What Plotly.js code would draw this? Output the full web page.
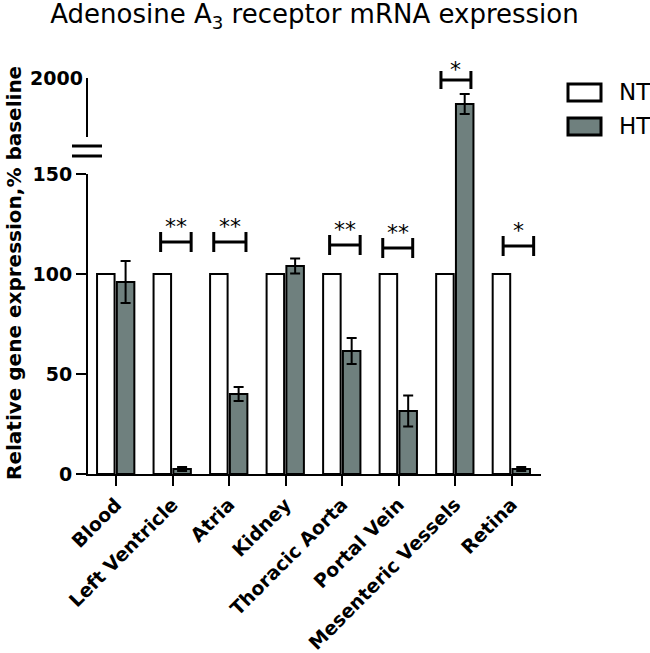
<!DOCTYPE html>
<html>
<head>
<meta charset="utf-8">
<script src="https://cdn.plot.ly/plotly-3.0.1.min.js"></script>
<style>html,body{margin:0;padding:0;background:#fff;}#chart{width:650px;height:653px;}</style>
</head>
<body>
<div id="chart"></div>
<script>
// ---- data ----
var categories = ['Blood','Left Ventricle','Atria','Kidney','Thoracic Aorta','Portal Vein','Mesenteric Vessels','Retina'];
var NT = [100,100,100,100,100,100,100,100];
var HT = [96, 2.5, 40, 104, 61.5, 31.5, 1870, 2.5];
var HT_err = [10.5, 1, 3.5, 3.7, 6.5, 7.7, 50, 1];
var sigMarks = ['', '**', '**', '', '**', '**', '*', '*'];
var seriesNames = ['NT', 'HT'];
var yTicks = [0, 50, 100, 150];
var yTicksUpper = [2000];

// ---- styling ----
var FONT = 'DejaVu Sans, Arial, sans-serif';
var GRAY = '#6f807e';
var L = 88, R = 541, T = 50, B = 474, W = 650, H = 653;
var pw = R - L, ph = B - T;
function px2x(p){ return (p - L) / pw; }
function px2y(p){ return (B - p) / ph; }
var splitFrac = px2y(174);

var barLine = {color:'#000', width:2};
var errStyle = {type:'data', visible:true, color:'#000', thickness:2, width:5};

var upperIdx = HT.map(function(v,i){return v > 150 ? i : -1;}).filter(function(i){return i >= 0;});

var traces = [
  {type:'bar', name:seriesNames[0], x:categories, y:NT, xaxis:'x', yaxis:'y',
   width:0.31, offset:-0.335, marker:{color:'#fff', line:barLine}, showlegend:false},
  {type:'bar', name:seriesNames[1], x:categories, y:HT, xaxis:'x', yaxis:'y',
   width:0.31, offset:0.015, marker:{color:GRAY, line:barLine},
   error_y:Object.assign({array:HT_err}, errStyle), showlegend:false},
  // upper segment of the broken axis: same HT series, where it exceeds the lower range
  {type:'bar', name:seriesNames[1], x:upperIdx.map(function(i){return categories[i];}),
   y:upperIdx.map(function(i){return HT[i];}), xaxis:'x', yaxis:'y2',
   width:0.31, offset:0.015, marker:{color:GRAY, line:barLine},
   error_y:Object.assign({array:upperIdx.map(function(i){return HT_err[i];})}, errStyle),
   showlegend:false}
];

// significance brackets: [left offset, right offset, y]
var brk = [ null, [-0.21,0.33,116], [-0.27,0.3,116], null, [-0.22,0.32,114.5], [-0.28,0.25,113], [-0.25,0.28,1990], [-0.15,0.39,114] ];
var shapes = [];
var annotations = [];
for (var i = 0; i < categories.length; i++) {
  var b = brk[i];
  if (!b || !sigMarks[i]) continue;
  var yr = (HT[i] > 150) ? 'y2' : 'y';
  var cap = (yr === 'y2') ? 45 : 5;
  var x0 = i + b[0], x1 = i + b[1], yy = b[2];
  var ln = {color:'#000', width:3};
  shapes.push({type:'line', xref:'x', yref:yr, x0:x0, x1:x1, y0:yy, y1:yy, line:ln});
  shapes.push({type:'line', xref:'x', yref:yr, x0:x0, x1:x0, y0:yy-cap, y1:yy+cap, line:ln});
  shapes.push({type:'line', xref:'x', yref:yr, x0:x1, x1:x1, y0:yy-cap, y1:yy+cap, line:ln});
  annotations.push({xref:'x', yref:yr, x:(x0+x1)/2, y:yy + (yr==='y2' ? -20 : 0.5), text:sigMarks[i],
    showarrow:false, yanchor:'bottom', font:{family:FONT, size:22, color:'#000'}});
}

// broken axis decorations
shapes.push({type:'line', xref:'paper', yref:'paper', x0:px2x(87), x1:px2x(87), y0:px2y(78), y1:px2y(137), line:{color:'#000', width:2}});
shapes.push({type:'line', xref:'paper', yref:'paper', x0:px2x(72), x1:px2x(102), y0:px2y(146), y1:px2y(146), line:{color:'#000', width:3}});
shapes.push({type:'line', xref:'paper', yref:'paper', x0:px2x(72), x1:px2x(102), y0:px2y(156), y1:px2y(156), line:{color:'#000', width:3}});

// legend
shapes.push({type:'rect', xref:'paper', yref:'paper', x0:px2x(568), x1:px2x(601), y0:px2y(101), y1:px2y(84), fillcolor:'#fff', line:{color:'#000', width:3}});
shapes.push({type:'rect', xref:'paper', yref:'paper', x0:px2x(568), x1:px2x(601), y0:px2y(135), y1:px2y(118), fillcolor:GRAY, line:{color:'#000', width:3}});
annotations.push({xref:'paper', yref:'paper', x:px2x(617), y:px2y(92), xanchor:'left', yanchor:'middle', text:seriesNames[0], showarrow:false, font:{family:FONT, size:23, color:'#000'}});
annotations.push({xref:'paper', yref:'paper', x:px2x(617), y:px2y(126), xanchor:'left', yanchor:'middle', text:seriesNames[1], showarrow:false, font:{family:FONT, size:23, color:'#000'}});

// y axis title
annotations.push({xref:'paper', yref:'paper', x:px2x(14), y:px2y(273), xanchor:'center', yanchor:'middle', textangle:-90,
  text:'<b>Relative gene expression,% baseline</b>', showarrow:false, font:{family:FONT, size:20, color:'#000'}});

var layout = {
  width:W, height:H,
  margin:{l:L, r:W-R, t:T, b:H-B, pad:0},
  paper_bgcolor:'#fff', plot_bgcolor:'rgba(0,0,0,0)',
  showlegend:false,
  title:{text:'Adenosine A<sub>3</sub> receptor mRNA expression', font:{family:FONT, size:26, color:'#000'},
    x:0.5, xref:'paper', xanchor:'center', y:1-14/H, yanchor:'middle'},
  xaxis:{type:'category', range:[-0.495, 7.52], anchor:'y', showline:true, linecolor:'#000', linewidth:2,
    ticks:'outside', ticklen:10, tickwidth:2, tickcolor:'#000', tickangle:-45, showgrid:false, zeroline:false,
    tickfont:{family:FONT, size:19, color:'#000', weight:'bold'}},
  yaxis:{domain:[0, splitFrac], range:[0,150], tickvals:yTicks, showline:true, linecolor:'#000', linewidth:2,
    ticks:'outside', ticklen:10, tickwidth:2, tickcolor:'#000', showgrid:false, zeroline:false,
    tickfont:{family:FONT, size:19, color:'#000', weight:'bold'}},
  yaxis2:{domain:[splitFrac, 1], range:[1520, 1520 + 5*(174-T)], tickvals:yTicksUpper, anchor:'x', showline:false,
    ticks:'', ticklen:0, showgrid:false, zeroline:false, ticklabelstandoff:4,
    tickfont:{family:FONT, size:19, color:'#000', weight:'bold'}},
  shapes:shapes,
  annotations:annotations,
  bargap:0
};

Plotly.newPlot('chart', traces, layout, {displayModeBar:false, staticPlot:true});
</script>
</body>
</html>
